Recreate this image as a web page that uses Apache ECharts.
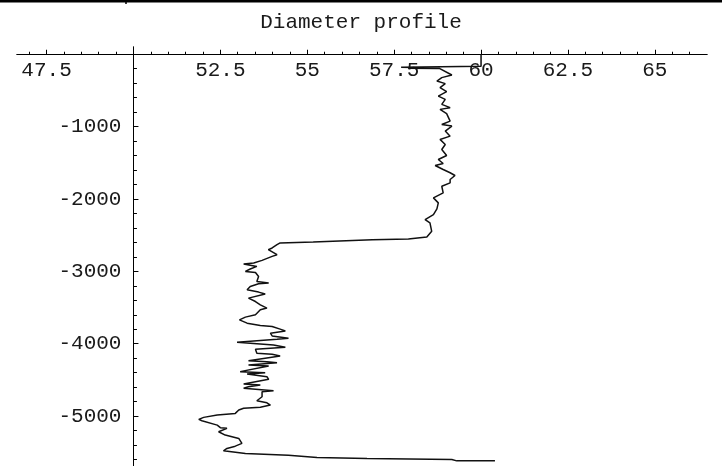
<!DOCTYPE html>
<html>
<head>
<meta charset="utf-8">
<script src="https://cdn.jsdelivr.net/npm/echarts@6/dist/echarts.min.js"></script>
<style>
html,body{margin:0;padding:0;background:#fff;}
#c{width:722px;height:466px;}
</style>
</head>
<body>
<div id="c"></div>
<script>
// Data (diameter vs depth)
const diameter = [60, 60, 57.7, 58.4, 57.9, 58.8, 59.16, 58.87, 58.73, 58.97, 58.82, 59.01, 58.77, 58.97, 58.87, 59.11, 58.82, 59.01, 59.11, 58.87, 59.16, 58.97, 59.11, 58.82, 58.97, 58.87, 59.01, 58.77, 58.91, 58.68, 58.91, 59.11, 59.25, 59.11, 59.11, 58.87, 58.91, 58.63, 58.77, 58.73, 58.63, 58.39, 58.53, 58.58, 58.44, 57.91, 56.87, 55.17, 54.22, 54.13, 53.99, 53.88, 54.13, 53.99, 53.70, 53.46, 53.17, 53.55, 53.36, 53.22, 53.51, 53.60, 53.55, 53.89, 53.60, 53.36, 53.27, 53.60, 53.79, 53.31, 53.51, 53.65, 53.84, 53.65, 53.51, 53.22, 53.05, 53.27, 53.65, 53.99, 54.22, 54.37, 53.94, 53.99, 54.46, 54.13, 52.98, 54.03, 54.37, 53.51, 53.55, 53.99, 54.22, 53.31, 53.84, 54.13, 53.31, 53.89, 53.07, 53.79, 53.27, 53.84, 53.89, 53.17, 53.65, 53.31, 53.17, 54.03, 53.70, 53.70, 53.55, 53.84, 53.94, 53.65, 53.17, 53.03, 52.93, 52.41, 52.02, 51.88, 51.97, 52.41, 52.50, 52.69, 52.45, 52.64, 53.03, 53.12, 52.93, 52.69, 52.59, 53.22, 54.46, 55.28, 56.72, 59.16, 59.30, 60.40];
const depth = [0, -166, -180, -188, -192, -196, -287, -323, -370, -406, -461, -517, -578, -623, -693, -738, -762, -821, -924, -970, -993, -1062, -1132, -1177, -1247, -1316, -1399, -1454, -1510, -1537, -1593, -1638, -1676, -1731, -1777, -1824, -1915, -1985, -2054, -2137, -2216, -2285, -2331, -2447, -2525, -2553, -2562, -2594, -2608, -2632, -2677, -2701, -2770, -2793, -2849, -2885, -2899, -2932, -2968, -3001, -3015, -3071, -3140, -3162, -3172, -3209, -3255, -3287, -3314, -3370, -3417, -3463, -3508, -3532, -3601, -3633, -3670, -3716, -3749, -3763, -3799, -3823, -3855, -3892, -3924, -3938, -3979, -4017, -4049, -4076, -4132, -4146, -4169, -4234, -4248, -4262, -4294, -4307, -4386, -4400, -4418, -4456, -4492, -4557, -4571, -4594, -4616, -4650, -4663, -4733, -4788, -4816, -4848, -4879, -4893, -4917, -4963, -4986, -5018, -5046, -5065, -5125, -5160, -5170, -5217, -5263, -5309, -5378, -5416, -5447, -5480, -5517, -5540, -5572, -5586, -5600, -5619, -5619];

const xTickLabels = [47.5, 52.5, 55, 57.5, 60, 62.5, 65];
const xMajorTicks = [47.5, 50, 52.5, 55, 57.5, 60, 62.5, 65];
const xMinorTicks = [47, 47.5, 48, 48.5, 49, 49.5, 50.5, 51, 51.5, 52, 52.5, 53, 53.5, 54, 54.5, 55, 55.5, 56, 56.5, 57, 57.5, 58, 58.5, 59, 59.5, 60, 60.5, 61, 61.5, 62, 62.5, 63, 63.5, 64, 64.5, 65, 65.5, 66];
const yTickLabels = [-1000, -2000, -3000, -4000, -5000];
const yMinorTicks = [-5600, -5400, -5200, -5000, -4800, -4600, -4400, -4200, -4000, -3800, -3600, -3400, -3200, -3000, -2800, -2600, -2400, -2200, -2000, -1800, -1600, -1400, -1200, -1000, -800, -600, -400, -200];
const xCross = 50;

const X_MIN = 46.65, X_MAX = 66.5, Y_MIN = -5690, Y_MAX = 100;
const GRID = {left: 17, right: 15, top: 47, bottom: 0};
const W = 722;
const gridW = W - GRID.left - GRID.right;
const yOffset = -((xCross - X_MIN) / (X_MAX - X_MIN)) * gridW;

const FONT = 'Liberation Mono';
const TXT = '#1a1a1a';

const chart = echarts.init(document.getElementById('c'), null, {renderer: 'canvas'});
const pts = diameter.map((d, i) => [d, depth[i]]);

const xBase = {
  type: 'value', min: X_MIN, max: X_MAX, position: 'top',
  axisLine: {show: true, onZero: true, lineStyle: {color: '#000', width: 1}},
  splitLine: {show: false}
};
const yBase = {
  type: 'value', min: Y_MIN, max: Y_MAX, position: 'left', offset: yOffset,
  axisLine: {show: true, onZero: false, lineStyle: {color: '#000', width: 1}},
  splitLine: {show: false}
};

chart.setOption({
  animation: false,
  backgroundColor: '#fff',
  title: {
    text: 'Diameter profile', left: 'center', top: 7,
    textStyle: {fontFamily: FONT, fontSize: 21, fontWeight: 'normal', color: TXT}
  },
  grid: GRID,
  xAxis: [
    Object.assign({}, xBase, {
      axisTick: {show: true, inside: false, length: 4.5, customValues: xMajorTicks, lineStyle: {color: '#000'}},
      axisLabel: {show: true, inside: true, margin: 13, customValues: xTickLabels,
        formatter: v => String(v), fontFamily: FONT, fontSize: 21, color: TXT}
    }),
    Object.assign({}, xBase, {
      axisTick: {show: true, inside: false, length: 2.5, customValues: xMinorTicks, lineStyle: {color: '#000'}},
      axisLabel: {show: false}
    })
  ],
  yAxis: [
    Object.assign({}, yBase, {
      axisTick: {show: true, inside: true, length: 5, customValues: yTickLabels, lineStyle: {color: '#000'}},
      axisLabel: {show: true, inside: false, margin: 12, customValues: yTickLabels,
        formatter: v => String(v), fontFamily: FONT, fontSize: 21, color: TXT}
    }),
    Object.assign({}, yBase, {
      axisTick: {show: true, inside: true, length: 3.5, customValues: yMinorTicks, lineStyle: {color: '#000'}},
      axisLabel: {show: false}
    })
  ],
  graphic: [
    {type: 'line', shape: {x1: 0, y1: 1.2, x2: 722, y2: 1.2}, style: {stroke: '#000', lineWidth: 2.4}},
    {type: 'line', shape: {x1: 126, y1: 0, x2: 126, y2: 4}, style: {stroke: '#000', lineWidth: 1.5}}
  ],
  series: [{
    type: 'line', xAxisIndex: 0, yAxisIndex: 0, data: pts,
    showSymbol: false, smooth: false, clip: false,
    lineStyle: {color: '#111', width: 1.5}
  }]
});
</script>
</body>
</html>
